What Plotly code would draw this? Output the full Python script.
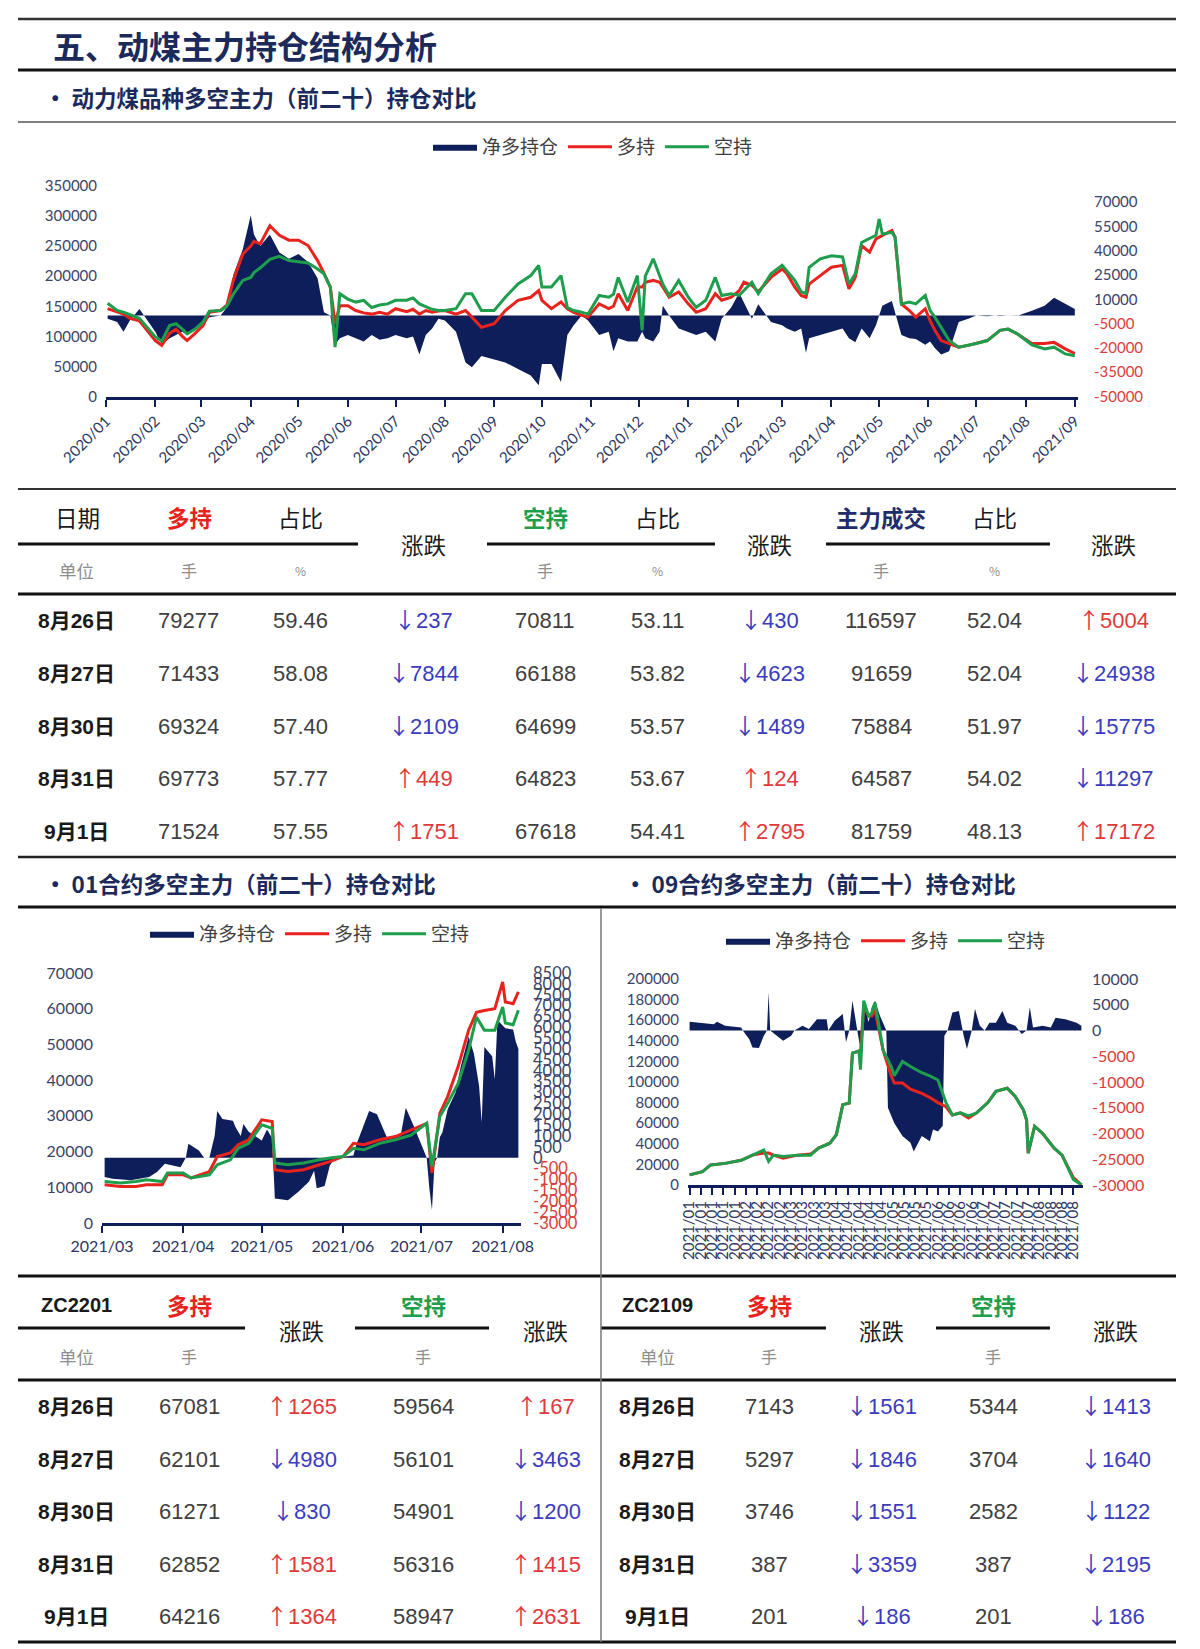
import plotly.graph_objects as go

W, H = 1200, 1649

# ================= Chart 1: 动力煤品种多空主力（前二十）持仓对比 =================
c1_dates = [
    "2020-01-02", "2020-01-08", "2020-01-12", "2020-01-16", "2020-01-22", "2020-02-01", "2020-02-05", "2020-02-10", "2020-02-14", "2020-02-18",
    "2020-02-21", "2020-02-26", "2020-03-02", "2020-03-06", "2020-03-13", "2020-03-17", "2020-03-21", "2020-03-27", "2020-04-01", "2020-04-03",
    "2020-04-07", "2020-04-13", "2020-04-19", "2020-04-25", "2020-05-01", "2020-05-07", "2020-05-13", "2020-05-17", "2020-05-21", "2020-05-24",
    "2020-05-27", "2020-06-01", "2020-06-06", "2020-06-11", "2020-06-16", "2020-06-21", "2020-06-26", "2020-07-01", "2020-07-08", "2020-07-12",
    "2020-07-16", "2020-07-20", "2020-07-24", "2020-07-28", "2020-08-01", "2020-08-08", "2020-08-14", "2020-08-18", "2020-08-24", "2020-09-01",
    "2020-09-08", "2020-09-16", "2020-09-24", "2020-09-29", "2020-10-01", "2020-10-07", "2020-10-13", "2020-10-17", "2020-10-21", "2020-10-26",
    "2020-10-30", "2020-11-06", "2020-11-12", "2020-11-15", "2020-11-18", "2020-11-24", "2020-11-30", "2020-12-03", "2020-12-05", "2020-12-10",
    "2020-12-14", "2020-12-16", "2020-12-20", "2020-12-26", "2021-01-01", "2021-01-06", "2021-01-12", "2021-01-18", "2021-01-22", "2021-01-28",
    "2021-02-02", "2021-02-05", "2021-02-10", "2021-02-14", "2021-02-22", "2021-03-01", "2021-03-04", "2021-03-09", "2021-03-13", "2021-03-16",
    "2021-03-18", "2021-03-25", "2021-04-01", "2021-04-08", "2021-04-12", "2021-04-16", "2021-04-20", "2021-04-25", "2021-04-29", "2021-05-01",
    "2021-05-03", "2021-05-09", "2021-05-11", "2021-05-15", "2021-05-20", "2021-05-24", "2021-05-30", "2021-06-02", "2021-06-05", "2021-06-09",
    "2021-06-14", "2021-06-20", "2021-06-26", "2021-07-01", "2021-07-08", "2021-07-16", "2021-07-21", "2021-07-27", "2021-08-05", "2021-08-13",
    "2021-08-19", "2021-08-26", "2021-09-01"]
c1_long = [
    146000, 140000, 137000, 130000, 126000, 93000, 85000, 105000, 112000, 100000,
    93000, 105000, 118000, 140000, 143000, 152000, 193000, 237000, 250000, 258000,
    254000, 284000, 268000, 260000, 260000, 251000, 226000, 205000, 182000, 121000,
    151000, 151000, 143000, 139000, 137000, 140000, 137000, 146000, 141000, 145000,
    137000, 143000, 140000, 142000, 143000, 137000, 143000, 132000, 115000, 121000,
    143000, 160000, 165000, 176000, 160000, 146000, 157000, 146000, 140000, 135000,
    132000, 154000, 146000, 150000, 171000, 143000, 182000, 182000, 190000, 193000,
    190000, 182000, 165000, 174000, 154000, 140000, 146000, 171000, 160000, 165000,
    176000, 190000, 185000, 174000, 198000, 212000, 204000, 182000, 168000, 165000,
    187000, 201000, 215000, 218000, 179000, 198000, 251000, 240000, 262000, 265000,
    268000, 276000, 265000, 154000, 143000, 132000, 146000, 126000, 110000, 93000,
    88000, 82000, 85000, 88000, 93000, 110000, 112000, 104000, 88000, 88000,
    90000, 79277, 71524]
c1_short = [
    155000, 143000, 140000, 136000, 130000, 99000, 92000, 118000, 121000, 112000,
    104000, 112000, 124000, 142000, 143000, 150000, 170000, 193000, 198000, 206000,
    214000, 228000, 233000, 226000, 224000, 222000, 212000, 204000, 182000, 82000,
    171000, 162000, 157000, 160000, 148000, 152000, 154000, 160000, 160000, 164000,
    154000, 150000, 145000, 143000, 143000, 146000, 171000, 171000, 143000, 143000,
    165000, 187000, 201000, 218000, 182000, 182000, 201000, 148000, 143000, 140000,
    137000, 168000, 165000, 170000, 198000, 157000, 201000, 110000, 200000, 229000,
    200000, 187000, 168000, 193000, 165000, 148000, 160000, 198000, 168000, 171000,
    168000, 176000, 190000, 171000, 204000, 218000, 209000, 193000, 174000, 171000,
    215000, 229000, 234000, 232000, 187000, 204000, 256000, 262000, 268000, 295000,
    270000, 273000, 265000, 154000, 157000, 154000, 168000, 143000, 132000, 115000,
    93000, 82000, 85000, 88000, 93000, 110000, 112000, 104000, 86000, 79000,
    82000, 70811, 67618]
c1_net = [
    -2000, -4000, -10000, -3000, 4000, -10000, -18000, -14000, -12000, -10000,
    -12000, -9000, -5000, -1000, 0, 5000, 25000, 41000, 62000, 50000,
    43000, 50000, 39000, 35000, 38000, 33000, 23000, 2000, 0, -18000,
    -14000, -12000, -14000, -16000, -12000, -15000, -14000, -12000, -14000, -13000,
    -24000, -12000, -8000, -2000, -3000, -10000, -29000, -32000, -25000, -27000,
    -29000, -33000, -37000, -43000, -30000, -30000, -41000, -12000, -6000, 0,
    -3000, -12000, -10000, -22000, -14000, -16000, -16000, -10000, -14000, -16000,
    -10000, 6000, 0, -8000, -10000, -12000, -10000, -16000, -2000, 5000,
    14000, 8000, -2000, 7000, -4000, -6000, -8000, -10000, -8000, -23000,
    -14000, -12000, -10000, -8000, -14000, -16500, -8000, -14000, -6000, 0,
    6000, 9000, 2000, -12000, -14000, -14500, -18000, -16000, -20000, -24000,
    -22000, -4000, -2000, 0, -500, 300, 0, -200, 3000, 6000,
    11000, 7000, 4000]
c1_left_ticks = [0, 50000, 100000, 150000, 200000, 250000, 300000, 350000]
c1_right_ticks = [-50000, -35000, -20000, -5000, 10000, 25000, 40000, 55000, 70000]

# ================= Chart 2: 01合约 =================
c2_dates = [
    "2021-03-02", "2021-03-08", "2021-03-14", "2021-03-18", "2021-03-24", "2021-03-26", "2021-04-01", "2021-04-04", "2021-04-11", "2021-04-14",
    "2021-04-19", "2021-04-22", "2021-04-26", "2021-05-01", "2021-05-05", "2021-05-06", "2021-05-11", "2021-05-17", "2021-05-23", "2021-05-27",
    "2021-06-01", "2021-06-05", "2021-06-09", "2021-06-15", "2021-06-21", "2021-06-27", "2021-07-03", "2021-07-05", "2021-07-08", "2021-07-11",
    "2021-07-15", "2021-07-19", "2021-07-22", "2021-07-25", "2021-07-29", "2021-08-01", "2021-08-02", "2021-08-05", "2021-08-07"]
c2_long = [
    10700, 10200, 10200, 10700, 10700, 13500, 13500, 12600, 14400, 18600,
    19600, 21900, 23300, 28900, 28400, 14900, 14400, 14900, 16300, 17200,
    18600, 22300, 21900, 23300, 24200, 26000, 27900, 14000, 30700, 35400,
    43800, 54000, 59000, 59500, 60000, 67500, 61900, 61400, 64700]
c2_short = [
    11600, 11200, 11600, 12100, 11600, 14000, 14000, 12600, 13500, 16300,
    17700, 20900, 22300, 27500, 26500, 16800, 16300, 16800, 17700, 18200,
    18600, 20900, 20500, 22300, 23300, 24600, 27900, 15800, 29800, 33500,
    39100, 48400, 57700, 54000, 54000, 60500, 56000, 55500, 59600]
c2_net_dates = [
    "2021-03-02", "2021-03-05", "2021-03-12", "2021-03-19", "2021-03-22", "2021-03-25", "2021-03-28", "2021-03-31", "2021-04-02", "2021-04-03",
    "2021-04-07", "2021-04-09", "2021-04-11", "2021-04-13", "2021-04-14", "2021-04-16", "2021-04-20", "2021-04-21", "2021-04-23", "2021-04-24",
    "2021-04-26", "2021-05-01", "2021-05-03", "2021-05-05", "2021-05-06", "2021-05-11", "2021-05-15", "2021-05-19", "2021-05-21", "2021-05-22",
    "2021-05-25", "2021-05-27", "2021-05-29", "2021-06-05", "2021-06-06", "2021-06-11", "2021-06-14", "2021-06-18", "2021-06-23", "2021-06-25",
    "2021-06-28", "2021-07-01", "2021-07-03", "2021-07-04", "2021-07-05", "2021-07-06", "2021-07-07", "2021-07-08", "2021-07-09", "2021-07-11",
    "2021-07-14", "2021-07-16", "2021-07-19", "2021-07-21", "2021-07-23", "2021-07-24", "2021-07-25", "2021-07-28", "2021-07-29", "2021-07-30",
    "2021-08-02", "2021-08-05", "2021-08-06", "2021-08-07"]
c2_net = [
    -880, -960, -1030, -880, -650, -270, -350, -430, 0, 640,
    330, 0, 0, 1000, 2150, 1780, 1700, 1400, 1000, 1550,
    1200, 790, 1300, 900, -1870, -1950, -1560, -1100, -600, -1400,
    -1300, -350, 0, 100, 560, 2150, 2000, 870, 1000, 2300,
    1470, 560, 0, -1400, -2400, -200, 0, 940, 1170, 2230,
    3000, 4200, 5580, 4800, 3300, 1630, 5100, 4670, 3600, 6340,
    5960, 5900, 5350, 5000]
c2_left_ticks = [0, 10000, 20000, 30000, 40000, 50000, 60000, 70000]
c2_right_ticks = [-3000, -2500, -2000, -1500, -1000, -500, 0, 500, 1000, 1500, 2000, 2500,
                  3000, 3500, 4000, 4500, 5000, 5500, 6000, 6500, 7000, 7500, 8000, 8500]

# ================= Chart 3: 09合约 =================
c3_dates = [
    "2021-01-01", "2021-01-09", "2021-01-14", "2021-01-23", "2021-02-02", "2021-02-09", "2021-02-16", "2021-02-19", "2021-02-22", "2021-02-28",
    "2021-03-09", "2021-03-17", "2021-03-22", "2021-03-29", "2021-04-02", "2021-04-06", "2021-04-10", "2021-04-12", "2021-04-16", "2021-04-17",
    "2021-04-19", "2021-04-22", "2021-04-24", "2021-04-26", "2021-05-01", "2021-05-06", "2021-05-08", "2021-05-13", "2021-05-18", "2021-05-25",
    "2021-05-30", "2021-06-04", "2021-06-09", "2021-06-13", "2021-06-18", "2021-06-23", "2021-06-28", "2021-07-05", "2021-07-10", "2021-07-17",
    "2021-07-22", "2021-07-27", "2021-07-29", "2021-07-30", "2021-08-03", "2021-08-08", "2021-08-15", "2021-08-20", "2021-08-27", "2021-09-01"]
c3_long = [
    9800, 13000, 19500, 21000, 24000, 29000, 31000, 31000, 29000, 26000,
    29000, 30000, 35800, 40600, 48800, 78000, 79500, 128000, 130000, 128000,
    174000, 164000, 164000, 170000, 131000, 106000, 99000, 99000, 93000, 89000,
    85000, 80000, 76000, 68000, 70000, 65000, 70000, 80000, 91000, 94000,
    86000, 73000, 63000, 31000, 57000, 50000, 36000, 29000, 7143, 201]
c3_short = [
    9800, 13000, 19500, 21000, 24000, 29000, 34000, 23000, 29000, 27600,
    29000, 29000, 35800, 40600, 48800, 78000, 79500, 128000, 130000, 112000,
    179000, 164000, 167000, 177000, 131000, 115000, 106000, 120000, 115000, 109000,
    106000, 102000, 80000, 68000, 70000, 67000, 70000, 80000, 91000, 94000,
    86000, 73000, 63000, 31000, 57000, 50000, 36000, 29000, 5344, 201]
c3_net_dates = [
    "2021-01-01", "2021-01-16", "2021-01-18", "2021-01-23", "2021-02-02", "2021-02-03", "2021-02-07", "2021-02-09", "2021-02-13", "2021-02-16",
    "2021-02-18", "2021-02-19", "2021-02-20", "2021-02-24", "2021-02-28", "2021-03-05", "2021-03-07", "2021-03-12", "2021-03-16", "2021-03-21",
    "2021-03-27", "2021-03-28", "2021-04-01", "2021-04-06", "2021-04-08", "2021-04-10", "2021-04-12", "2021-04-15", "2021-04-17", "2021-04-19",
    "2021-04-22", "2021-04-24", "2021-04-26", "2021-04-29", "2021-05-03", "2021-05-04", "2021-05-08", "2021-05-13", "2021-05-18", "2021-05-20",
    "2021-05-25", "2021-05-30", "2021-06-01", "2021-06-04", "2021-06-07", "2021-06-08", "2021-06-10", "2021-06-13", "2021-06-17", "2021-06-20",
    "2021-06-22", "2021-06-25", "2021-06-27", "2021-06-30", "2021-07-03", "2021-07-06", "2021-07-10", "2021-07-14", "2021-07-17", "2021-07-22",
    "2021-07-26", "2021-07-29", "2021-07-31", "2021-08-02", "2021-08-08", "2021-08-13", "2021-08-16", "2021-08-22", "2021-08-29", "2021-09-01"]
c3_net = [
    1700, 1235, 1700, 900, 585, 0, -1700, -3300, -3400, -1000,
    0, 7400, 0, -1000, -2000, -1000, 0, 900, 300, 2200,
    2200, 0, 1900, 3200, -2300, 0, 5800, 0, -3600, 5800,
    1600, 4500, 5800, 2900, 0, -15000, -18000, -20500, -21800, -23500,
    -20500, -21500, -19200, -19600, -18500, -1000, 0, 3500, 3800, -1000,
    -3600, 0, 4200, 900, 0, 1500, 1500, 3800, 1500, 900,
    -700, 0, 4500, 600, 900, 600, 2500, 2200, 1500, 900]
c3_left_ticks = [0, 20000, 40000, 60000, 80000, 100000, 120000, 140000, 160000, 180000, 200000]
c3_right_ticks = [-30000, -25000, -20000, -15000, -10000, -5000, 0, 5000, 10000]

# ================= Tables =================
tbl_dates = ["8月26日", "8月27日", "8月30日", "8月31日", "9月1日"]
t1_long = [79277, 71433, 69324, 69773, 71524]
t1_long_pct = [59.46, 58.08, 57.40, 57.77, 57.55]
t1_long_chg = [-237, -7844, -2109, 449, 1751]
t1_short = [70811, 66188, 64699, 64823, 67618]
t1_short_pct = [53.11, 53.82, 53.57, 53.67, 54.41]
t1_short_chg = [-430, -4623, -1489, 124, 2795]
t1_vol = [116597, 91659, 75884, 64587, 81759]
t1_vol_pct = [52.04, 52.04, 51.97, 54.02, 48.13]
t1_vol_chg = [5004, -24938, -15775, -11297, 17172]

t2_name = "ZC2201"
t2_long = [67081, 62101, 61271, 62852, 64216]
t2_long_chg = [1265, -4980, -830, 1581, 1364]
t2_short = [59564, 56101, 54901, 56316, 58947]
t2_short_chg = [167, -3463, -1200, 1415, 2631]

t3_name = "ZC2109"
t3_long = [7143, 5297, 3746, 387, 201]
t3_long_chg = [-1561, -1846, -1551, -3359, -186]
t3_short = [5344, 3704, 2582, 387, 201]
t3_short_chg = [-1413, -1640, -1122, -2195, -186]

# ================= Styles =================
NAVY = "#0E1E5B"
RED = "#E8231D"
GREEN = "#1E9E4C"
TITLE_C = "#1B2A5B"
AXT = "#3A4466"
NEGC = "#D8403A"
UP = "#E0393B"
DOWN = "#3B3BC0"
NUMC = "#404040"
CJK = "Noto Sans CJK SC"
NUMF = "Liberation Sans"
DATEF = "Liberation Sans, Noto Sans CJK SC"
TICKF = "Lato, Noto Sans CJK SC"


def px(x):
    return x / W


def py(y):
    return 1 - y / H


def colored(vals):
    return [f"<span style='color:{NEGC if v < 0 else AXT}'>{v}</span>" for v in vals]


fig = go.Figure()

# ---- chart 1 traces
fig.add_trace(go.Scatter(x=c1_dates, y=c1_net, xaxis="x", yaxis="y", mode="lines", fill="tozeroy",
                         line=dict(width=0, color=NAVY), fillcolor=NAVY, name="净多持仓", legend="legend"))
fig.add_trace(go.Scatter(x=c1_dates, y=c1_long, xaxis="x", yaxis="y2", mode="lines",
                         line=dict(width=3, color=RED), name="多持", legend="legend"))
fig.add_trace(go.Scatter(x=c1_dates, y=c1_short, xaxis="x", yaxis="y2", mode="lines",
                         line=dict(width=3, color=GREEN), name="空持", legend="legend"))
# ---- chart 2 traces
fig.add_trace(go.Scatter(x=c2_net_dates, y=c2_net, xaxis="x2", yaxis="y3", mode="lines", fill="tozeroy",
                         line=dict(width=0, color=NAVY), fillcolor=NAVY, name="净多持仓", legend="legend2"))
fig.add_trace(go.Scatter(x=c2_dates, y=c2_long, xaxis="x2", yaxis="y4", mode="lines",
                         line=dict(width=3, color=RED), name="多持", legend="legend2"))
fig.add_trace(go.Scatter(x=c2_dates, y=c2_short, xaxis="x2", yaxis="y4", mode="lines",
                         line=dict(width=3, color=GREEN), name="空持", legend="legend2"))
# ---- chart 3 traces
fig.add_trace(go.Scatter(x=c3_net_dates, y=c3_net, xaxis="x3", yaxis="y5", mode="lines", fill="tozeroy",
                         line=dict(width=0, color=NAVY), fillcolor=NAVY, name="净多持仓", legend="legend3"))
fig.add_trace(go.Scatter(x=c3_dates, y=c3_long, xaxis="x3", yaxis="y6", mode="lines",
                         line=dict(width=3, color=RED), name="多持", legend="legend3"))
fig.add_trace(go.Scatter(x=c3_dates, y=c3_short, xaxis="x3", yaxis="y6", mode="lines",
                         line=dict(width=3, color=GREEN), name="空持", legend="legend3"))

xbase = dict(type="date", showline=True, linecolor=NAVY, linewidth=3, ticks="outside", ticklen=7,
             tickwidth=2, tickcolor=NAVY, showgrid=False, zeroline=False, tickformat="%Y/%m",
             automargin=False, tickfont=dict(family=TICKF, color="#2B3660"))
ybase = dict(showgrid=False, zeroline=False, showline=False, ticks="", ticklabelstandoff=8,
             automargin=False, tickfont=dict(family=TICKF, color=AXT))

layout = dict(
    template="none",
    width=W, height=H, autosize=False, margin=dict(l=0, r=0, t=0, b=0, pad=0, autoexpand=False),
    paper_bgcolor="white", plot_bgcolor="white", hovermode=False, showlegend=True,
    xaxis=dict(xbase, domain=[px(106), px(1078)], anchor="y", range=["2020-01-01", "2021-09-03"],
               dtick="M1", tick0="2020-01-01", tickangle=-45, tickfont=dict(family=TICKF, size=15, color="#2B3660")),
    yaxis=dict(ybase, domain=[py(396.5), py(186)], anchor="x", side="right", range=[-50000, 80000],
               ticklabelstandoff=15,
               tickvals=c1_right_ticks, ticktext=colored(c1_right_ticks), tickfont=dict(family=TICKF, size=15)),
    yaxis2=dict(ybase, overlaying="y", anchor="x", side="left", range=[0, 350000],
                tickvals=c1_left_ticks, ticktext=[str(v) for v in c1_left_ticks],
                tickfont=dict(family=TICKF, size=15, color=AXT)),
    xaxis2=dict(xbase, domain=[px(102), px(521)], anchor="y3", range=["2021-03-01", "2021-08-08"],
                dtick="M1", tick0="2021-03-01", tickangle=0, tickfont=dict(family=TICKF, size=16, color="#2B3660")),
    yaxis3=dict(ybase, domain=[py(1223), py(973)], anchor="x2", side="right", range=[-3000, 8500],
                ticklabelstandoff=11,
                tickvals=c2_right_ticks, ticktext=colored(c2_right_ticks), tickfont=dict(family=TICKF, size=16.5)),
    yaxis4=dict(ybase, overlaying="y3", anchor="x2", side="left", range=[0, 70000],
                tickvals=c2_left_ticks, ticktext=[str(v) for v in c2_left_ticks],
                tickfont=dict(family=TICKF, size=16, color=AXT)),
    xaxis3=dict(xbase, domain=[px(688), px(1083)], anchor="y5", range=["2020-12-31", "2021-09-02"],
                dtick=7 * 24 * 3600 * 1000, tick0="2021-01-01", tickangle=-90,
                tickfont=dict(family=TICKF, size=15, color="#2B3660")),
    yaxis5=dict(ybase, domain=[py(1185), py(979)], anchor="x3", side="right", range=[-30000, 10000],
                tickvals=c3_right_ticks, ticktext=colored(c3_right_ticks), tickfont=dict(family=TICKF, size=16)),
    yaxis6=dict(ybase, overlaying="y5", anchor="x3", side="left", range=[0, 200000],
                tickvals=c3_left_ticks, ticktext=[str(v) for v in c3_left_ticks],
                tickfont=dict(family=TICKF, size=15, color=AXT)),
)
leg = dict(orientation="h", xanchor="center", yanchor="middle", bgcolor="rgba(0,0,0,0)",
           font=dict(family=CJK, size=19, color="#404040"), itemwidth=44, traceorder="normal")
layout["legend"] = dict(leg, x=px(593), y=py(147))
layout["legend2"] = dict(leg, x=px(310), y=py(934))
layout["legend3"] = dict(leg, x=px(886), y=py(941))
fig.update_layout(**layout)

# ================= Shapes (rules) =================
shapes = []


def L(x0, y0, x1, y1, w=3, c="#111111"):
    shapes.append(dict(type="line", xref="paper", yref="paper", x0=px(x0), y0=py(y0), x1=px(x1), y1=py(y1),
                       line=dict(width=w, color=c)))


L(18, 19, 1176, 19, 2.5, "#333333")
L(18, 70, 1176, 70, 3)
L(18, 122, 1176, 122, 1.5, "#555555")
L(18, 489, 1176, 489, 2, "#333333")
for a, b in [(18, 358), (487, 715), (826, 1050)]:
    L(a, 544, b, 544, 3)
L(18, 594, 1176, 594, 3)
L(18, 857, 1176, 857, 2.5, "#222222")
L(18, 907, 1176, 907, 3)
L(18, 1276, 1176, 1276, 3)
for a, b in [(18, 245), (355, 489), (601, 826), (936, 1050)]:
    L(a, 1328, b, 1328, 3)
L(18, 1380, 1176, 1380, 3)
L(18, 1642, 1176, 1642, 3)
L(601, 908, 601, 1642, 1.5, "#777777")

# ================= Text =================
ann = []


def T(x, y, text, size=20, color="#1a1a1a", family=CJK, bold=False, xanchor="center"):
    if bold:
        text = f"<b>{text}</b>"
    ann.append(dict(x=px(x), y=py(y), xref="paper", yref="paper", text=text, showarrow=False,
                    xanchor=xanchor, yanchor="middle", font=dict(size=size, color=color, family=family)))


def chg(v):
    arrow = "↑" if v > 0 else "↓"
    txt = f"<span style='font-family:Noto Sans CJK SC'>{arrow}</span>{abs(v)}"
    return txt, (UP if v > 0 else DOWN)


T(51, 45, "五、动煤主力持仓结构分析", 32, TITLE_C, CJK, True, "left")
T(42, 97, "• 动力煤品种多空主力（前二十）持仓对比", 22.5, TITLE_C, CJK, True, "left")
T(42, 883, "• 01合约多空主力（前二十）持仓对比", 22.5, TITLE_C, CJK, True, "left")
T(622, 883, "• 09合约多空主力（前二十）持仓对比", 22.5, TITLE_C, CJK, True, "left")

HDR = "#1a1a1a"
GRAY = "#8E8E8E"
# ---- table 1 header
T(77, 517, "日期", 22.5, HDR)
T(189, 517, "多持", 22.5, RED, CJK, True)
T(300, 517, "占比", 22.5, HDR)
T(545, 517, "空持", 22.5, GREEN, CJK, True)
T(657, 517, "占比", 22.5, HDR)
T(881, 517, "主力成交", 22.5, "#1F2D6B", CJK, True)
T(994, 517, "占比", 22.5, HDR)
for x in (423, 769, 1113):
    T(x, 544, "涨跌", 22.5, HDR)
T(76, 570, "单位", 17.5, GRAY)
for x in (189, 545, 881):
    T(x, 570, "手", 16, GRAY)
for x in (300, 657, 994):
    T(x, 570, "%", 12, GRAY)

rows1 = [620, 673, 726, 778, 831]
for i, y in enumerate(rows1):
    T(76, y, tbl_dates[i], 21, "#1a1a1a", DATEF, True)
    T(188, y, str(t1_long[i]), 22, NUMC, NUMF)
    T(300, y, f"{t1_long_pct[i]:.2f}", 22, NUMC, NUMF)
    s, c = chg(t1_long_chg[i]); T(423, y - 2, s, 22, c, NUMF)
    T(545, y, str(t1_short[i]), 22, NUMC, NUMF)
    T(657, y, f"{t1_short_pct[i]:.2f}", 22, NUMC, NUMF)
    s, c = chg(t1_short_chg[i]); T(769, y - 2, s, 22, c, NUMF)
    T(881, y, str(t1_vol[i]), 22, NUMC, NUMF)
    T(994, y, f"{t1_vol_pct[i]:.2f}", 22, NUMC, NUMF)
    s, c = chg(t1_vol_chg[i]); T(1113, y - 2, s, 22, c, NUMF)

# ---- bottom tables
rows2 = [1406, 1459, 1511, 1564, 1616]
for (name, xs, lg, lgc, sh, shc) in [
    (t2_name, (76, 189, 301, 423, 545), t2_long, t2_long_chg, t2_short, t2_short_chg),
    (t3_name, (657, 769, 881, 993, 1115), t3_long, t3_long_chg, t3_short, t3_short_chg),
]:
    xd, xl, xc1, xs_, xc2 = xs
    T(xd, 1305, name, 20, "#1a1a1a", NUMF, True)
    T(xl, 1305, "多持", 22.5, RED, CJK, True)
    T(xs_, 1305, "空持", 22.5, GREEN, CJK, True)
    T(xc1, 1330, "涨跌", 22.5, HDR)
    T(xc2, 1330, "涨跌", 22.5, HDR)
    T(xd, 1356, "单位", 17.5, GRAY)
    T(xl, 1356, "手", 16, GRAY)
    T(xs_, 1356, "手", 16, GRAY)
    for i, y in enumerate(rows2):
        T(xd, y, tbl_dates[i], 21, "#1a1a1a", DATEF, True)
        T(xl, y, str(lg[i]), 22, NUMC, NUMF)
        s, c = chg(lgc[i]); T(xc1, y - 2, s, 22, c, NUMF)
        T(xs_, y, str(sh[i]), 22, NUMC, NUMF)
        s, c = chg(shc[i]); T(xc2, y - 2, s, 22, c, NUMF)

fig.update_layout(shapes=shapes, annotations=ann)
fig.write_html("out.html", config={"displayModeBar": False},
               post_script="document.body.style.margin='0px';")
